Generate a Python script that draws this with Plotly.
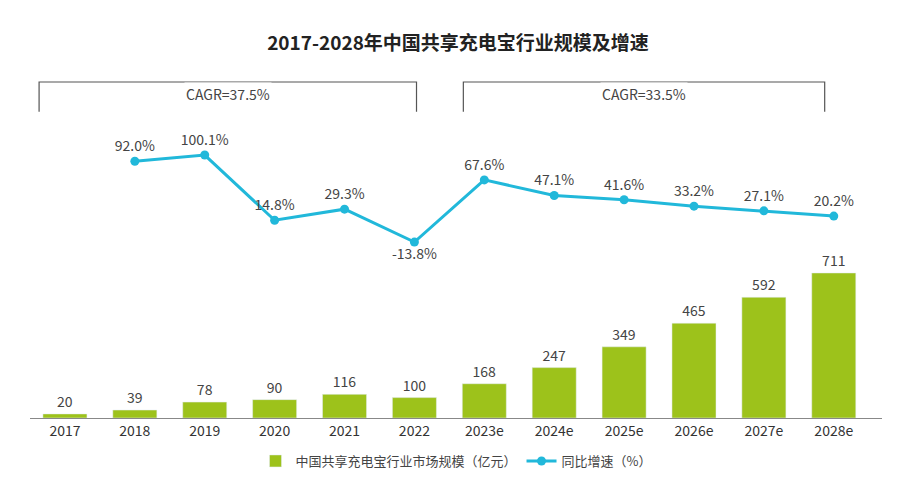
import plotly.graph_objects as go

years = ["2017", "2018", "2019", "2020", "2021", "2022", "2023e", "2024e", "2025e", "2026e", "2027e", "2028e"]
market = [20, 39, 78, 90, 116, 100, 168, 247, 349, 465, 592, 711]
growth_years = years[1:]
growth = [92.0, 100.1, 14.8, 29.3, -13.8, 67.6, 47.1, 41.6, 33.2, 27.1, 20.2]

font = "Noto Sans CJK SC"
fig = go.Figure()
fig.add_trace(go.Bar(x=years, y=market, name="中国共享充电宝行业市场规模（亿元）",
                     marker_color="#9dc21b", width=0.63,
                     text=market, textposition="outside",
                     textfont=dict(size=14, color="#444"), cliponaxis=False))
labels = [f"{g:.1f}%" for g in growth]
pos = ["top center"] * len(growth)
pos[4] = "bottom center"
fig.add_trace(go.Scatter(x=growth_years, y=growth, name="同比增速（%）", yaxis="y2",
                         mode="lines+markers+text", text=labels, textposition=pos,
                         line=dict(color="#21b8da", width=3), marker=dict(size=9),
                         textfont=dict(size=14, color="#444"), cliponaxis=False))

# CAGR brackets
H = 0.96
for x0, x1, txt in [(-0.37, 5.03, "CAGR=37.5%"), (5.7, 10.87, "CAGR=33.5%")]:
    fig.add_shape(type="path", xref="x", yref="paper",
                  path=f"M {x0},{H - 0.085} L {x0},{H} L {x1},{H} L {x1},{H - 0.085}",
                  line=dict(color="#555", width=1.2))
    fig.add_annotation(x=(x0 + x1) / 2, y=H, xref="x", yref="paper", text=txt,
                       showarrow=False, bgcolor="white", font=dict(size=14, color="#444"))

fig.update_layout(
    width=900, height=481, plot_bgcolor="white", paper_bgcolor="white",
    font=dict(family=font, color="#333"),
    title=dict(text="<b>2017-2028年中国共享充电宝行业规模及增速</b>", x=0.5, y=0.94,
               font=dict(size=19, color="#222")),
    margin=dict(l=22, r=26, t=60, b=71),
    bargap=0.37,
    xaxis=dict(showline=True, linecolor="#888", tickfont=dict(size=14, color="#333"), ticks=""),
    yaxis=dict(range=[0, 1716], visible=False, showgrid=False),
    yaxis2=dict(range=[-244, 214], visible=False, overlaying="y", showgrid=False),
    legend=dict(orientation="h", x=0.5, xanchor="center", y=-0.08, yanchor="top",
                font=dict(size=13, color="#444")),
)
fig.write_html("out.html")
